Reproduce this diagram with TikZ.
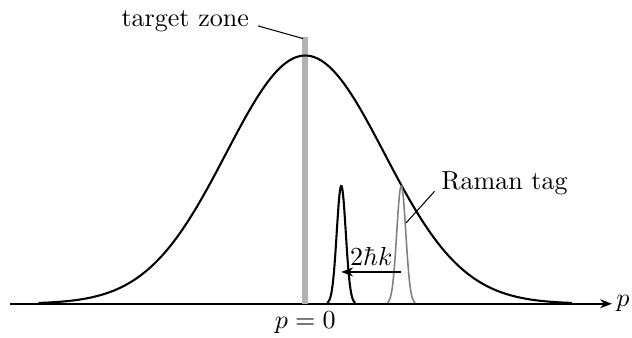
\documentclass[tikz,border=0pt]{standalone}
\usetikzlibrary{arrows.meta}
\tikzset{
  peakline/.style={thick, smooth, samples=60},
  leader/.style={thin},
}
\begin{document}
\begin{tikzpicture}[font=\normalsize]
  \def\amp{3.35}
  \def\sig{1.067}
  \def\pamp{1.59}
  \def\psig{0.061}
  \def\pa{0.486}
  \def\pb{1.296}
  \useasboundingbox (-4.12,-0.45) rectangle (4.41,4.10);
  % momentum axis
  \draw[semithick, -{Stealth[length=1.6mm]}] (-3.98,0) -- (4.14,0) coordinate (axisend);
  \node[anchor=west, inner sep=1.5pt] (plabel) at (axisend) {$p$};
  \node[anchor=north, inner sep=2pt] (zerolabel) at (0,-0.03) {$p=0$};
  % target zone
  \draw[line width=2.3pt, gray!60] (0,0) -- (0,3.6) coordinate (zonetop);
  % broad distribution
  \draw[peakline, samples=120, domain=-3.6:3.6]
    plot (\x, {\amp*exp(-(\x*\x)/(2*\sig*\sig))});
  % narrow peaks
  \draw[peakline, domain=-0.19:0.19]
    plot ({\pa+\x}, {\pamp*exp(-(\x*\x)/(2*\psig*\psig))});
  \draw[peakline, semithick, gray, domain=-0.19:0.19]
    plot ({\pb+\x}, {\pamp*exp(-(\x*\x)/(2*\psig*\psig))});
  % recoil arrow
  \coordinate (grayc) at (\pb,0.43);
  \coordinate (blackc) at (\pa,0.43);
  \draw[semithick, -{Stealth[length=1.6mm]}] (grayc) -- (blackc)
    node[midway, above=-1pt] (kick) {$2\hbar k$};
  % labels
  \node (zone) at (-1.62,3.81) {target zone};
  \coordinate (zonehit) at (-0.03,3.58);
  \draw[leader] (zone.east) ++(0,-0.06) -- (zonehit);
  \node (tag) at (2.69,1.62) {Raman tag};
  \coordinate (taghit) at (1.36,1.09);
  \draw[leader] (tag.base west) ++(0.03,-0.02) -- (taghit);
\end{tikzpicture}
\end{document}
